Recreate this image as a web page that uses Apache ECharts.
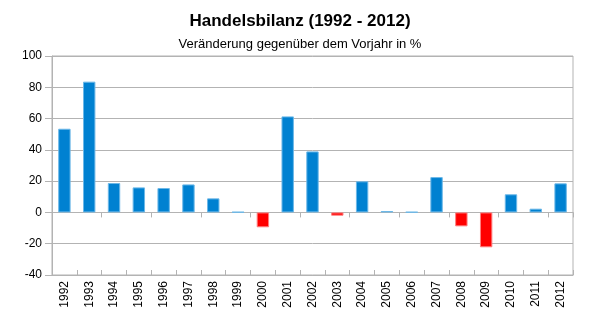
<!DOCTYPE html>
<html><head><meta charset="utf-8">
<script src="https://cdn.jsdelivr.net/npm/echarts@6/dist/echarts.min.js"></script>
<style>html,body{margin:0;padding:0;background:#fff}#c{width:600px;height:325px}</style>
</head><body><div id="c"></div>
<script>
const years = ['1992','1993','1994','1995','1996','1997','1998','1999','2000','2001','2002','2003','2004','2005','2006','2007','2008','2009','2010','2011','2012'];
const values = [53.5,83.6,18.8,16.0,15.6,17.9,9.0,0.3,-9.5,61.4,39.0,-2.1,19.9,0.9,0.3,22.6,-8.9,-22.3,11.6,2.4,18.6];
const yTicks = [-40,-20,0,20,40,60,80,100];

const chart = echarts.init(document.getElementById('c'), null, {renderer:'canvas'});
const gray = '#b3b3b3';
const font = 'Liberation Sans, Arial, sans-serif';
const barData = values.map(v => ({
  value: v,
  itemStyle: v < 0
    ? {color:'#ff0000', borderColor:'#ff8080', borderWidth:1}
    : {color:'#0081d1', borderColor:'#6cb8e8', borderWidth:1}
}));
chart.setOption({
  animation:false,
  title:[
    {text:'Handelsbilanz (1992 - 2012)', left:'center', top:8,
     textStyle:{fontFamily:font, fontSize:17, fontWeight:'bold', color:'#000'}},
    {text:'Veränderung gegenüber dem Vorjahr in %', left:'center', top:33,
     textStyle:{fontFamily:font, fontSize:13, fontWeight:'normal', color:'#000'}}
  ],
  grid:{left:52, right:27, top:56, bottom:50, show:true, borderColor:gray, borderWidth:1},
  xAxis:[
    {type:'category', data:years, axisLine:{onZero:true, lineStyle:{color:gray}},
     axisTick:{show:true, length:5, lineStyle:{color:gray}}, axisLabel:{show:false}},
    {type:'category', data:years, position:'bottom', axisLine:{onZero:false, lineStyle:{color:gray}},
     axisTick:{show:true, inside:true, length:5, lineStyle:{color:gray}},
     axisLabel:{rotate:90, fontFamily:font, fontSize:12, color:'#000', margin:6}}
  ],
  yAxis:{type:'value', min:yTicks[0], max:yTicks[yTicks.length-1], interval:20,
    axisLine:{show:true, lineStyle:{color:gray}},
    axisTick:{show:true, length:7, lineStyle:{color:gray}},
    splitLine:{lineStyle:{color:gray}},
    axisLabel:{fontFamily:font, fontSize:12, color:'#000', margin:10}},
  series:[{type:'bar', xAxisIndex:0, data:barData, barWidth:'50%'}]
});
</script></body></html>
